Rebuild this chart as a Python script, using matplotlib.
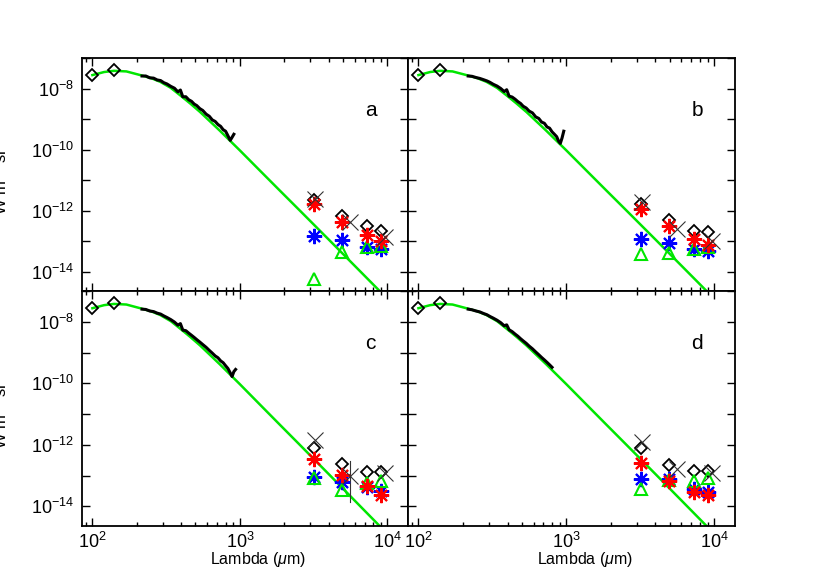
import numpy as np
import matplotlib
matplotlib.use('Agg')
import matplotlib.pyplot as plt
from matplotlib.ticker import FixedLocator, FixedFormatter, NullLocator

plt.rcParams['font.family'] = ['Liberation Sans', 'DejaVu Sans']
plt.rcParams['mathtext.fontset'] = 'custom'
plt.rcParams['mathtext.rm'] = 'Liberation Sans'
plt.rcParams['mathtext.it'] = 'Liberation Sans:italic'

# model curve (green), log10 of W m-2 sr-1
model_lam = [100, 120, 140, 170, 211, 250, 288, 340, 393, 460, 537, 730, 1000,
             1360, 1860, 2500, 4000, 6000, 8830, 14000]
model_logf = [-7.56, -7.46, -7.42, -7.44, -7.56, -7.66, -7.78, -7.98, -8.22, -8.49,
              -8.77, -9.38, -10.03, -10.68, -11.34, -11.96, -12.95, -13.81, -14.63, -15.60]

# measured spectrum (black), one list per panel
nan = np.nan
spec_lam = [217, 230, 245, 260, 275, 290, 305, 320, 340, 360, 380, 395, 410, 430, 450,
            470, 490, 510, 535, 560, 590, 620, 650, 680, 710, 740, 770, 800, 830, 860,
            885, 910, 935, 960]
spec_a = [-7.59, -7.59, -7.65, -7.66, -7.72, -7.74, -7.81, -7.85, -7.93, -7.99, -8.11,
          -8.05, -8.27, -8.27, -8.37, -8.42, -8.51, -8.56, -8.66, -8.72, -8.84, -8.91,
          -9.03, -9.08, -9.18, -9.24, -9.35, -9.40, -9.55, -9.70, -9.60, -9.50, nan, nan]
spec_b = [-7.59, -7.60, -7.64, -7.67, -7.71, -7.75, -7.80, -7.86, -7.92, -8.00, -8.10,
          -8.04, -8.25, -8.28, -8.35, -8.43, -8.49, -8.58, -8.64, -8.74, -8.80, -8.93,
          -8.98, -9.10, -9.14, -9.26, -9.30, -9.42, -9.50, -9.58, -9.72, -9.80, -9.62, -9.40]
spec_c = [-7.59, -7.60, -7.65, -7.67, -7.72, -7.75, -7.81, -7.86, -7.93, -8.01, -8.11,
          -8.06, -8.27, -8.29, -8.37, -8.44, -8.51, -8.58, -8.66, -8.74, -8.83, -8.93,
          -9.02, -9.11, -9.17, -9.27, -9.33, -9.43, -9.52, -9.66, -9.78, -9.62, -9.55, nan]
spec_d = [-7.59, -7.61, -7.65, -7.68, -7.73, -7.77, -7.83, -7.88, -7.95, -8.03, -8.13,
          -8.10, -8.26, -8.32, -8.40, -8.47, -8.55, -8.62, -8.70, -8.79, -8.88, -8.98,
          -9.07, -9.16, -9.24, -9.32, -9.40, -9.48, nan, nan, nan, nan, nan, nan]

# far-infrared points (diamonds)
fir_lam = [100, 140]
fir_logf = [-7.56, -7.40]

# microwave bands
mw_lam = [3190, 4910, 7310, 9090]
cross_lam = [3250, 5610, 9680]

diam = {'a': [-11.65, -12.17, -12.50, -12.66], 'b': [-11.77, -12.30, -12.66, -12.72],
        'c': [-12.11, -12.62, -12.88, -12.88], 'd': [-12.10, -12.66, -12.86, -12.86]}
red = {'a': [-11.78, -12.36, -12.79, -13.01], 'b': [-11.94, -12.50, -12.93, -13.12],
       'c': [-12.45, -12.99, -13.35, -13.62], 'd': [-12.59, -13.18, -13.52, -13.63]}
blue = {'a': [-12.83, -12.97, -13.19, -13.26], 'b': [-12.93, -13.06, -13.26, -13.32],
        'c': [-13.05, -13.22, -13.38, -13.49], 'd': [-13.12, -13.12, -13.43, -13.52]}
tri = {'a': [-14.25, -13.37, -13.19, -13.15], 'b': [-13.42, -13.38, -13.26, -13.19],
       'c': [-13.08, -13.46, -13.24, -13.16], 'd': [-13.45, -13.15, -13.16, -13.08]}
cross = {'a': [-11.62, -12.39, -12.88], 'b': [-11.72, -12.60, -12.99],
         'c': [-11.85, -13.02, -12.91], 'd': [-11.90, -12.79, -12.91]}
# error bar on the middle cross of panel c
err_c = [-12.53, -13.87]

spectra = {'a': spec_a, 'b': spec_b, 'c': spec_c, 'd': spec_d}
GREEN = '#00e600'

W, H = 817, 584
fig = plt.figure(figsize=(W / 100, H / 100), dpi=100)

x0, xm, x1 = 82 / W, 408 / W, 735 / W
ytop, ymid, ybot = 1 - 58 / H, 1 - 291 / H, 1 - 526 / H
boxes = {'a': [x0, ymid, xm - x0, ytop - ymid], 'b': [xm, ymid, x1 - xm, ytop - ymid],
         'c': [x0, ybot, xm - x0, ymid - ybot], 'd': [xm, ybot, x1 - xm, ymid - ybot]}

yt = [10.0 ** e for e in range(-15, -6)]
ytl = ['$10^{%d}$' % e if e % 2 == 0 else '' for e in range(-15, -6)]
xminor = [m * 10.0 ** e for e in (1, 2, 3) for m in range(2, 10)]

for key, box in boxes.items():
    ax = fig.add_axes(box)
    ax.set_xscale('log')
    ax.set_yscale('log')

    ax.plot(model_lam, 10 ** np.array(model_logf), color=GREEN, lw=1.8, zorder=2)
    ax.plot(spec_lam, 10 ** np.array(spectra[key]), color='black', lw=2.2, zorder=3)
    ax.plot(fir_lam, 10 ** np.array(fir_logf), ls='none', marker='D', ms=6.5,
            mfc='none', mec='black', mew=1.3, zorder=4)

    ax.plot(mw_lam, 10 ** np.array(diam[key]), ls='none', marker='D', ms=6.5,
            mfc='none', mec='black', mew=1.3, zorder=4)
    ax.plot(mw_lam, 10 ** np.array(blue[key]), ls='none', marker=(8, 2, 0), ms=11,
            mec='blue', mew=1.5, zorder=4)
    ax.plot(mw_lam, 10 ** np.array(tri[key]), ls='none', marker='^', ms=9,
            mfc='none', mec=GREEN, mew=1.5, zorder=5)
    ax.plot(mw_lam, 10 ** np.array(red[key]), ls='none', marker=(8, 2, 0), ms=11,
            mec='red', mew=1.5, zorder=6)
    ax.plot(cross_lam, 10 ** np.array(cross[key]), ls='none', marker='x', ms=11,
            mec='#333333', mew=0.8, zorder=6)
    if key == 'c':
        ax.plot([cross_lam[1]] * 2, 10 ** np.array(err_c), color='#333333', lw=0.8)

    ax.set_xlim(85, 13800)
    ax.set_ylim(2.3e-15, 1.0e-7)
    ax.yaxis.set_major_locator(FixedLocator(yt))
    ax.yaxis.set_major_formatter(FixedFormatter(ytl))
    ax.yaxis.set_minor_locator(NullLocator())
    ax.xaxis.set_major_locator(FixedLocator([1e2, 1e3, 1e4]))
    ax.xaxis.set_major_formatter(FixedFormatter(['$10^{2}$', '$10^{3}$', '$10^{4}$']))
    ax.xaxis.set_minor_locator(FixedLocator(xminor))
    ax.tick_params(which='both', direction='in', top=True, right=True, width=1.0,
                   labelsize=13)
    ax.tick_params(axis='y', pad=6)
    ax.tick_params(axis='x', pad=4)
    ax.tick_params(which='major', length=6)
    ax.tick_params(which='minor', length=3)
    for s in ax.spines.values():
        s.set_linewidth(1.3)

    if key in ('a', 'b'):
        ax.tick_params(labelbottom=False)
    else:
        ax.set_xlabel(r'Lambda ($\mu$m)', fontsize=11.5)
        ax.xaxis.set_label_coords(0.54, -0.103)
    if key in ('b', 'd'):
        ax.tick_params(labelleft=False)
    ax.text(0.885, 0.775, key, transform=ax.transAxes, fontsize=15,
            ha='center', va='center')

# the y title sits on the left edge of the figure, as in the original
for yc in ((ytop + ymid) / 2, (ymid + ybot) / 2):
    fig.text(9 / W, yc, r'W m$^{-2}$ sr$^{-1}$', rotation=90, ha='right',
             va='center', fontsize=12)

fig.savefig('out.png', dpi=100)
